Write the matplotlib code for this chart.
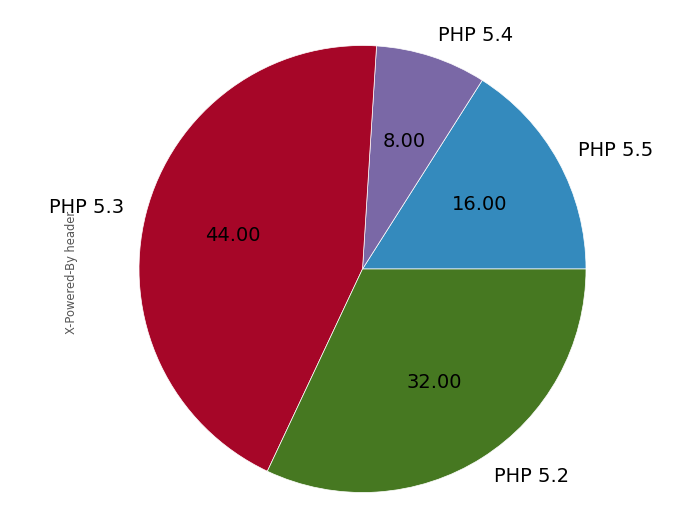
import matplotlib
matplotlib.use("Agg")
import matplotlib.pyplot as plt

labels = ["PHP 5.5", "PHP 5.4", "PHP 5.3", "PHP 5.2"]
values = [16, 8, 44, 32]
colors = ["#348ABD", "#7A68A6", "#A60628", "#467821"]

fig = plt.figure(figsize=(6.9, 5.17), dpi=100)
ax = fig.add_axes([0, 0, 1, 1])
wedges, texts, autotexts = ax.pie(values, labels=labels, colors=colors,
                                  autopct="%.2f", startangle=0,
                                  wedgeprops=dict(edgecolor="white", linewidth=0.5),
                                  textprops=dict(fontsize=14, color="black"))
r = 223.5
cx, cy = 362.5, 269.0
ax.set_xlim(-cx / r, (690 - cx) / r)
ax.set_ylim(-(517 - cy) / r, cy / r)
ax.set_aspect("equal")
ax.axis("off")
fig.text(71 / 690, 1 - 272 / 517, "X-Powered-By header", rotation=90,
         fontsize=8.3, color="#555555", ha="center", va="center")
fig.savefig("out.png", dpi=100)
